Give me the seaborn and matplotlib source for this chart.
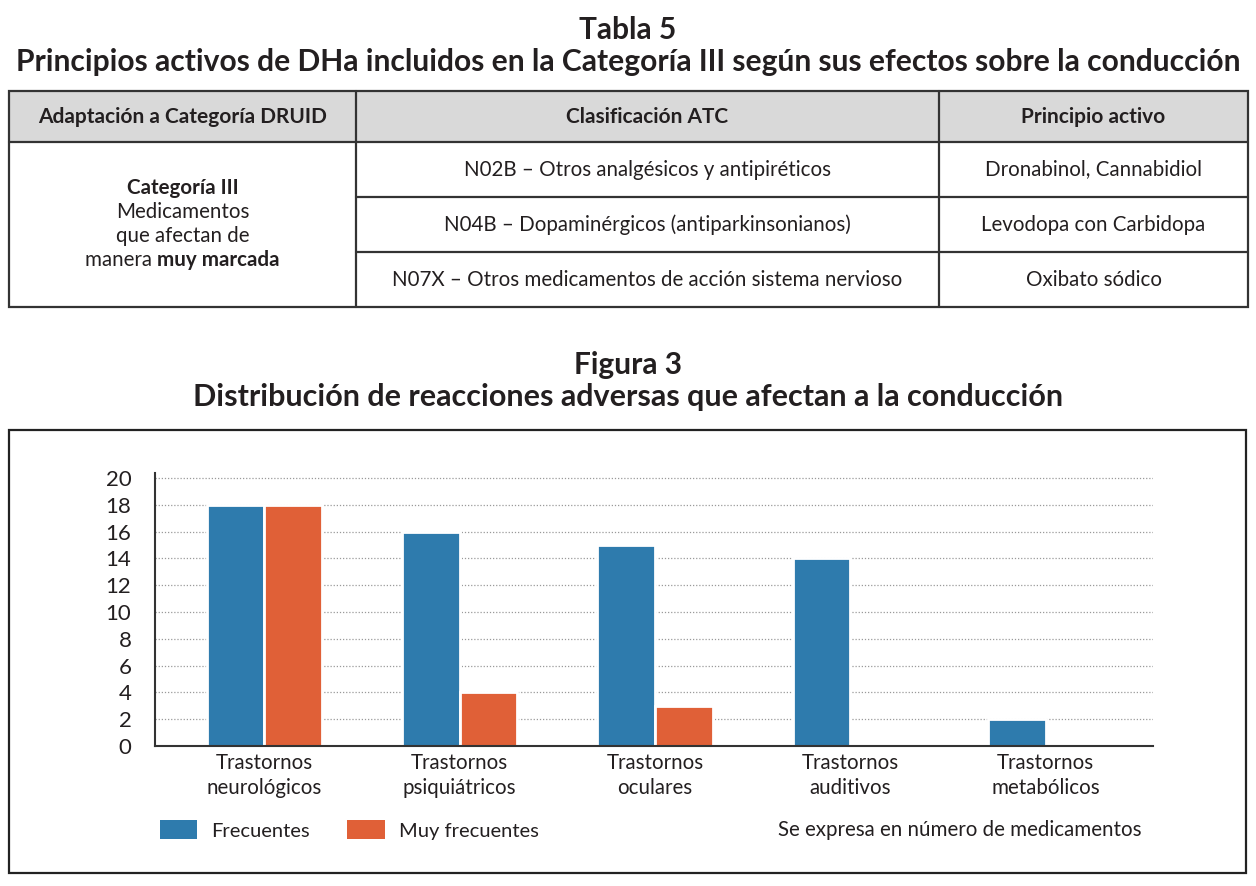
import matplotlib
matplotlib.use("Agg")
import matplotlib.pyplot as plt
from matplotlib.patches import Rectangle, Patch
import seaborn as sns
import pandas as pd

# ---------------- data ----------------
categories = ["Trastornos\nneurológicos", "Trastornos\npsiquiátricos", "Trastornos\noculares",
              "Trastornos\nauditivos", "Trastornos\nmetabólicos"]
series_names = ["Frecuentes", "Muy frecuentes"]
frecuentes = [18, 16, 15, 14, 2]
muy_frecuentes = [18, 4, 3, 0, 0]
y_ticks = [0, 2, 4, 6, 8, 10, 12, 14, 16, 18, 20]

table_title = "Tabla 5"
table_subtitle = "Principios activos de DHa incluidos en la Categoría III según sus efectos sobre la conducción"
table_headers = ["Adaptación a Categoría DRUID", "Clasificación ATC", "Principio activo"]
atc_rows = ["N02B – Otros analgésicos y antipiréticos",
            "N04B – Dopaminérgicos (antiparkinsonianos)",
            "N07X – Otros medicamentos de acción sistema nervioso"]
principio_rows = ["Dronabinol, Cannabidiol", "Levodopa con Carbidopa", "Oxibato sódico"]
fig_title = "Figura 3"
fig_subtitle = "Distribución de reacciones adversas que afectan a la conducción"
note = "Se expresa en número de medicamentos"

BLUE = "#2e7bad"
ORANGE = "#e06037"
DARK = "#231f20"
FONT = ["Lato", "DejaVu Sans"]

sns.set_theme(style="white")
plt.rcParams["font.family"] = FONT
plt.rcParams["text.color"] = DARK

W, H = 1256, 886
fig = plt.figure(figsize=(W / 100, H / 100), dpi=100)

# background axes in pixel coordinates
bg = fig.add_axes([0, 0, 1, 1], zorder=0)
bg.set_xlim(0, W)
bg.set_ylim(H, 0)
bg.axis("off")

# titles
bg.text(628, 30, table_title, ha="center", va="center", fontsize=21.5, fontweight="bold")
bg.text(628, 62, table_subtitle, ha="center", va="center", fontsize=21.6, fontweight="bold")
bg.text(628, 365, fig_title, ha="center", va="center", fontsize=21.5, fontweight="bold")
bg.text(628, 397, fig_subtitle, ha="center", va="center", fontsize=22, fontweight="bold")

# ---------------- table ----------------
col_x = [9, 356, 939, 1248]
row_y = [91, 142, 197, 252, 307]
lw_t = 1.6
bg.add_patch(Rectangle((col_x[0], row_y[0]), col_x[-1] - col_x[0], row_y[1] - row_y[0],
                       facecolor="#d9d9d9", edgecolor="none"))
bg.add_patch(Rectangle((col_x[0], row_y[0]), col_x[-1] - col_x[0], row_y[-1] - row_y[0],
                       facecolor="none", edgecolor="#333333", lw=lw_t))
for cx in col_x[1:-1]:
    bg.plot([cx, cx], [row_y[0], row_y[-1]], color="#333333", lw=lw_t)
bg.plot([col_x[0], col_x[-1]], [row_y[1], row_y[1]], color="#333333", lw=lw_t)
for ry in row_y[2:-1]:
    bg.plot([col_x[1], col_x[-1]], [ry, ry], color="#333333", lw=lw_t)

FS_T = 14.8
hy = (row_y[0] + row_y[1]) / 2
for i, h in enumerate(table_headers):
    bg.text((col_x[i] + col_x[i + 1]) / 2, hy, h, ha="center", va="center",
            fontsize=15.0, fontweight="bold")
for r in range(3):
    yc = (row_y[r + 1] + row_y[r + 2]) / 2
    bg.text((col_x[1] + col_x[2]) / 2, yc, atc_rows[r], ha="center", va="center", fontsize=FS_T)
    bg.text((col_x[2] + col_x[3]) / 2, yc, principio_rows[r], ha="center", va="center", fontsize=FS_T)

lc = (col_x[0] + col_x[1]) / 2
bg.text(lc, 188, "Categoría III", ha="center", va="center", fontsize=FS_T, fontweight="bold")
bg.text(lc, 212, "Medicamentos", ha="center", va="center", fontsize=FS_T)
bg.text(lc, 236, "que afectan de", ha="center", va="center", fontsize=FS_T)
renderer = fig.canvas.get_renderer()
t1 = bg.text(0, 260, "manera ", ha="left", va="center", fontsize=FS_T)
t2 = bg.text(0, 260, "muy marcada", ha="left", va="center", fontsize=FS_T, fontweight="bold")
w1 = t1.get_window_extent(renderer).width
w2 = t2.get_window_extent(renderer).width
x0 = lc - (w1 + w2) / 2
t1.set_x(x0)
t2.set_x(x0 + w1)

# chart frame
bg.add_patch(Rectangle((9, 430), 1246 - 9, 873 - 430, facecolor="none", edgecolor="#222222", lw=1.6))

# ---------------- chart ----------------
ax_left, ax_right = 155, 1153
y0_px, y20_px = 746, 478
ymax = 20.35
px_per_unit = (y0_px - y20_px) / 20
top_px = y0_px - ymax * px_per_unit
ax = fig.add_axes([ax_left / W, (H - y0_px) / H, (ax_right - ax_left) / W, (y0_px - top_px) / H], zorder=2)
ax.patch.set_alpha(0)

df = pd.DataFrame({
    "cat": categories * 2,
    "serie": [series_names[0]] * 5 + [series_names[1]] * 5,
    "val": frecuentes + muy_frecuentes,
})
sns.barplot(data=df, x="cat", y="val", hue="serie", order=categories, hue_order=series_names,
            palette=[BLUE, ORANGE], width=0.59, edgecolor="white", linewidth=2.0,
            saturation=1, ax=ax, legend=False, zorder=3)

ax.set_xlim(-0.56, 4.55)
ax.set_ylim(0, ymax)
ax.set_yticks(y_ticks)
ax.set_yticklabels([str(v) for v in y_ticks], fontsize=16)
ax.tick_params(axis="both", length=0, colors=DARK)
ax.tick_params(axis="y", pad=17)
ax.tick_params(axis="x", labelsize=14.8, pad=5)
for lab in ax.get_xticklabels():
    lab.set_linespacing(1.3)
ax.set_xlabel("")
ax.set_ylabel("")
for v in y_ticks[1:]:
    ax.axhline(v, color="#9a9a9a", lw=0.9, ls=(0, (1, 1.5)), zorder=1)
for s in ["top", "right"]:
    ax.spines[s].set_visible(False)
for s in ["left", "bottom"]:
    ax.spines[s].set_color("#333333")
    ax.spines[s].set_linewidth(1.5)
    ax.spines[s].set_zorder(4)

handles = [Patch(facecolor=BLUE, edgecolor="none"), Patch(facecolor=ORANGE, edgecolor="none")]
leg = fig.legend(handles, series_names, loc="center left",
                 bbox_to_anchor=(142 / W, (H - 830) / H), ncol=2, frameon=False,
                 fontsize=14.5, handlelength=1.85, handleheight=1.05, handletextpad=0.7,
                 columnspacing=1.85)

bg.text(1142, 830, note, ha="right", va="center", fontsize=14.8)

fig.savefig("out.png", dpi=100)
